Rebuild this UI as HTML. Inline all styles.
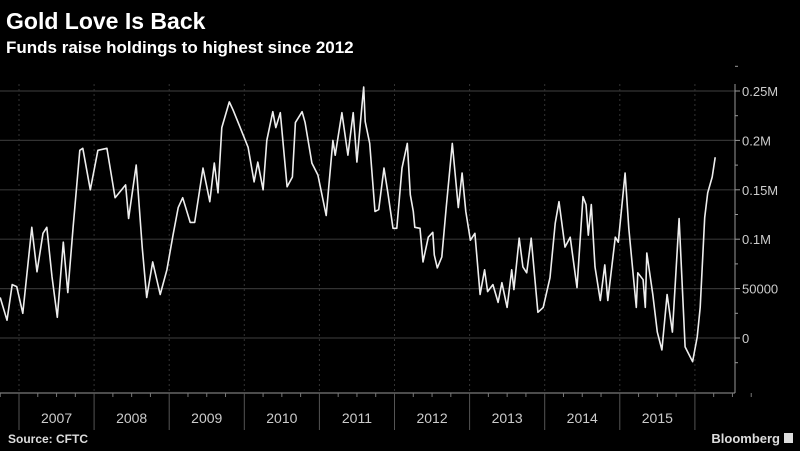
<!DOCTYPE html>
<html><head><meta charset="utf-8"><style>
html,body{margin:0;padding:0;background:#000;width:800px;height:451px;overflow:hidden}
svg{display:block;font-family:"Liberation Sans",sans-serif}
</style></head><body>
<svg id="chart" width="800" height="451" viewBox="0 0 800 451">
<text x="6" y="29" fill="#fff" font-size="23" font-weight="bold">Gold Love Is Back</text>
<text x="6" y="53" fill="#fff" font-size="17" font-weight="bold">Funds raise holdings to highest since 2012</text>
<g id="grid"></g><g id="axes"></g>
<path id="line" fill="none" stroke="#eee" stroke-width="1.6" stroke-linejoin="round"/>
<text x="8" y="443" fill="#ddd" font-size="12" font-weight="bold">Source: CFTC</text>
<text x="780" y="443" fill="#ddd" font-size="13" font-weight="bold" text-anchor="end">Bloomberg</text>
<rect x="784" y="433" width="9" height="10" fill="#ddd"/>
</svg>
<script>
const years = [2007,2008,2009,2010,2011,2012,2013,2014,2015];
const yTicks = [0,50000,100000,150000,200000,250000];
const yTickLabels = ["0","50000","0.1M","0.15M","0.2M","0.25M"];
const dates = [2006.75,2006.84,2006.91,2006.97,2007.05,2007.17,2007.24,2007.32,2007.37,2007.44,2007.51,2007.59,2007.65,2007.72,2007.81,2007.85,2007.95,2008.05,2008.17,2008.28,2008.42,2008.46,2008.56,2008.64,2008.70,2008.78,2008.88,2008.97,2009.05,2009.12,2009.18,2009.28,2009.34,2009.45,2009.54,2009.60,2009.65,2009.70,2009.80,2009.85,2009.94,2010.05,2010.13,2010.18,2010.25,2010.30,2010.38,2010.42,2010.48,2010.57,2010.64,2010.68,2010.77,2010.81,2010.90,2010.98,2011.09,2011.18,2011.21,2011.30,2011.38,2011.45,2011.50,2011.57,2011.59,2011.61,2011.67,2011.74,2011.79,2011.86,2011.91,2011.98,2012.03,2012.10,2012.17,2012.21,2012.25,2012.27,2012.34,2012.38,2012.45,2012.51,2012.53,2012.57,2012.63,2012.69,2012.77,2012.85,2012.90,2012.95,2013.01,2013.07,2013.14,2013.20,2013.24,2013.31,2013.38,2013.43,2013.50,2013.56,2013.59,2013.66,2013.71,2013.76,2013.82,2013.91,2013.98,2014.07,2014.14,2014.19,2014.27,2014.34,2014.43,2014.51,2014.55,2014.58,2014.62,2014.67,2014.74,2014.80,2014.84,2014.94,2014.98,2015.07,2015.12,2015.22,2015.24,2015.31,2015.34,2015.36,2015.44,2015.50,2015.56,2015.63,2015.70,2015.79,2015.87,2015.97,2016.03,2016.07,2016.13,2016.17,2016.23,2016.27];
const holdings = [41,18,54,52,25,112,67,106,112,62,21,97,46,112,190,192,150,190,192,142,155,121,175,92,41,77,44,69,104,132,142,117,117,172,138,177,147,213,239,231,214,193,158,178,150,200,229,213,228,153,163,218,229,218,177,165,124,200,185,228,185,228,178,238,254,219,197,128,130,172,148,111,111,172,197,145,128,112,111,77,102,107,84,71,82,133,197,132,167,128,99,106,44,69,47,54,36,56,31,69,49,101,72,66,101,26,31,61,116,138,92,102,51,143,135,104,135,72,38,74,38,102,97,167,111,31,66,59,31,86,44,6,-12,44,6,121,-9,-24,1,31,122,147,163,183];
const NS="http://www.w3.org/2000/svg";
const X0=19, YW=75.1, Y0=338, PX=49.4/50000;
const xs=t=>X0+(t-2007)*YW;
const ys=v=>Y0-v*PX;
const grid=document.getElementById('grid'), axes=document.getElementById('axes');
function mk(tag,attrs,parent){const e=document.createElementNS(NS,tag);for(const k in attrs)e.setAttribute(k,attrs[k]);parent.appendChild(e);return e;}
yTicks.forEach((v,i)=>{
  const l=mk('line',{x1:0,x2:735,y1:ys(v),y2:ys(v),stroke:'#333','stroke-width':1.2},grid);
  
  
  const t=mk('text',{x:742,y:ys(v)+5,fill:'#ccc','font-size':13},axes);
  t.textContent=yTickLabels[i];
  
  
  mk('line',{x1:735,x2:740,y1:ys(v),y2:ys(v),stroke:'#999'},axes);
  mk('line',{x1:735,x2:738,y1:ys(v+25000),y2:ys(v+25000),stroke:'#999'},axes);
});
mk('line',{x1:735,x2:738,y1:ys(-25000),y2:ys(-25000),stroke:'#999'},axes);
const ya=mk('line',{x1:735,x2:735,y1:84,y2:393,stroke:'#999'},axes);


const xa=mk('line',{x1:0,x2:735,y1:393,y2:393,stroke:'#999'},axes);


years.concat([2016]).forEach(y=>{
  const x=xs(y);
  const g=mk('line',{x1:x,x2:x,y1:84,y2:393,stroke:'#333','stroke-dasharray':'2,3'},grid);
  
  
  mk('line',{x1:x,x2:x,y1:393,y2:430,stroke:'#555'},axes);
  for(let m=1;m<4;m++)mk('line',{x1:x+m*YW/4,x2:x+m*YW/4,y1:393,y2:397,stroke:'#777'},axes);
});
for(let m=1;m<4;m++)mk('line',{x1:xs(2007)-m*YW/4,x2:xs(2007)-m*YW/4,y1:393,y2:397,stroke:'#777'},axes);
years.forEach(y=>{
  const t=mk('text',{x:xs(y+0.5),y:423,fill:'#ccc','font-size':14,'text-anchor':'middle'},axes);
  t.textContent=y;
  
  
});
let d='';
dates.forEach((t,i)=>{d+=(i?'L':'M')+xs(t).toFixed(1)+','+ys(holdings[i]*1000).toFixed(1);});
document.getElementById('line').setAttribute('d',d);
</script>
</body></html>
